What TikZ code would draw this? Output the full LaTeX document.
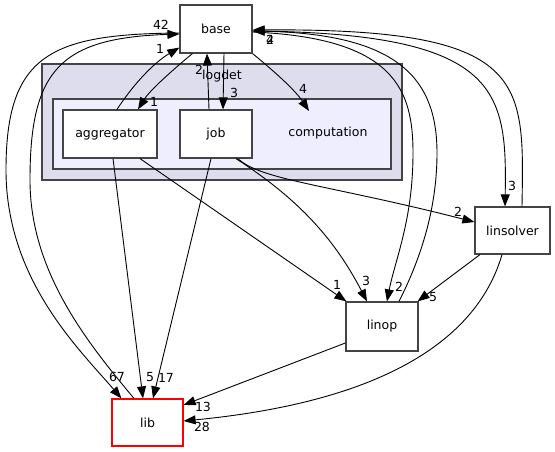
\documentclass[tikz,border=0pt]{standalone}
\usepackage{fontspec}
\setmainfont{DejaVu Sans}
\usetikzlibrary{arrows.meta}
\definecolor{outerfill}{HTML}{DDDDEE}
\definecolor{innerfill}{HTML}{EEEEFF}
\definecolor{frame}{HTML}{444444}

\begin{document}
\begin{tikzpicture}[x=1pt,y=-1pt,
    dir/.style={draw=frame, fill=white, line width=1.2pt, minimum height=48pt, inner sep=0pt, font=\fontsize{12.5}{15}\selectfont},
    dep/.style={line width=0.9pt, -{Triangle[length=12pt,width=9pt]}},
    num/.style={inner sep=0pt, font=\fontsize{12.5}{15}\selectfont}]
            \useasboundingbox (0,0) rectangle (555,452);

            % logdet
            \draw[fill=outerfill, draw=frame, line width=2pt] (42,64) rectangle (402,180);
            \node[num] (logdet) at (222,76) {logdet};
            \draw[fill=innerfill, draw=frame, line width=2pt] (53,99) rectangle (391,169);
            \node[num] (computation) at (328,133) {computation};
            \coordinate (comptip) at (309,111);

            \node[dir, minimum width=94pt] (aggregator) at (110,134) {aggregator};
            \node[dir, minimum width=72pt] (job) at (216,134) {job};

            % others
            \node[dir, minimum width=72pt] (base) at (216,29) {base};
            \node[dir, minimum width=75pt, minimum height=47pt] (linsolver) at (512.5,230.5) {linsolver};
            \node[dir, minimum width=72pt, minimum height=49pt] (linop) at (382,326.5) {linop};
            \node[dir, draw=red, minimum width=71pt, minimum height=47pt] (lib) at (147.5,422.5) {lib};

            % base <-> logdet
            \draw[dep] ([xshift=7pt]aggregator.north) .. controls (135,82) and (155,62) .. ([yshift=6pt]base.south west);
            \node[num] (n1a) at (160,49) {1};
            \draw[dep] ([xshift=13pt]base.south west) .. controls (175,68) and (150,90) .. ([xshift=28pt]aggregator.north);
            \node[num] (n1b) at (154,102) {1};
            \draw[dep] ([xshift=-7pt]job.north) -- ([xshift=-9pt]base.south);
            \node[num] (n2a) at (199,70) {2};
            \draw[dep] ([xshift=8pt]base.south) -- ([xshift=7pt]job.north);
            \node[num] (n3a) at (234,93) {3};
            \draw[dep] (base.south east) .. controls (275,72) and (295,90) .. (comptip);
            \node[num] (n4a) at (303,89) {4};

            % base <-> lib
            \draw[dep] ([yshift=-4pt]base.west) .. controls (50,34) and (6,55) .. (6,170) .. controls (6,280) and (80,350) .. ([xshift=10pt]lib.north west);
            \node[num] (n67) at (117,377) {67};
            \draw[dep] ([xshift=-13.5pt]lib.north) .. controls (85,340) and (30,270) .. (30,180) .. controls (30,70) and (60,38) .. ([yshift=-5pt]base.west);
            \node[num] (n42) at (161,25) {42};

            % base <-> linop, linsolver
            \draw[dep] ([yshift=-3pt]base.east) .. controls (395,38) and (413,90) .. (413,153) .. controls (413,220) and (395,260) .. ([xshift=5pt]linop.north);
            \node[num] (n2b) at (399,287) {2};
            \draw[dep] ([xshift=17pt]linop.north) .. controls (420,260) and (437,210) .. (437,153) .. controls (437,80) and (400,34) .. ([yshift=-2pt]base.east);
            \node[num] (n2c) at (270,40) {2};
            \draw[dep] ([yshift=-2pt]base.east) .. controls (500,33) and (507,90) .. ([xshift=-7.5pt]linsolver.north);
            \node[num] (n3b) at (512,186) {3};
            \draw[dep] ([xshift=9.5pt]linsolver.north) .. controls (524,80) and (530,28) .. ([yshift=-1pt]base.east);
            \node[num] (n4b) at (270,40) {4};

            % aggregator, job
            \draw[dep] ([xshift=3pt]aggregator.south) -- ([xshift=-4.5pt]lib.north);
            \node[num] (n5a) at (150,377) {5};
            \draw[dep] ([xshift=30pt]aggregator.south) -- ([xshift=1pt]linop.north west);
            \node[num] (n1c) at (337,285) {1};
            \draw[dep] ([xshift=-5pt]job.south) -- ([xshift=5.5pt]lib.north);
            \node[num] (n17) at (166,378) {17};
            \draw[dep] ([xshift=20pt]job.south) .. controls (300,200) and (335,240) .. ([xshift=-15pt]linop.north);
            \node[num] (n3c) at (366,281) {3};
            \draw[dep] ([xshift=22pt]job.south) .. controls (260,180) and (330,185) .. ([yshift=8.5pt]linsolver.west);
            \node[num] (n2d) at (458,212) {2};

            % linsolver, linop
            \draw[dep] ([xshift=-32.5pt]linsolver.south) -- ([xshift=-1pt]linop.north east);
            \node[num] (n5b) at (433,297) {5};
            \draw[dep] ([xshift=-10.5pt]linsolver.south) .. controls (480,330) and (400,400) .. ([yshift=1.5pt]lib.east);
            \node[num] (n28) at (202,427) {28};
            \draw[dep] ([yshift=-16.5pt]linop.west) -- ([yshift=17.5pt]lib.east);
            \node[num] (n13) at (203,407) {13};
\end{tikzpicture}
\end{document}
